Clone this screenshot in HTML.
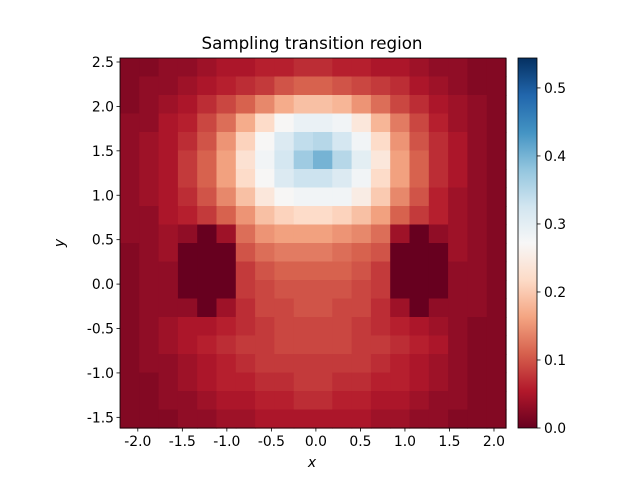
<!DOCTYPE html>
<html><head><meta charset="utf-8"><style>
body{margin:0;background:#fff}
svg{display:block;font-family:"DejaVu Sans","Liberation Sans",sans-serif}
</style></head><body>
<svg id="c" width="640" height="480" viewBox="0 0 640 480">
<rect width="640" height="480" fill="#fff"/>
<text x="312" y="49" font-size="16.7" text-anchor="middle">Sampling transition region</text>
<g id="heat"></g>
<g id="ax"></g>
<defs><linearGradient id="cg" x1="0" y1="1" x2="0" y2="0"></linearGradient></defs>
<rect x="518" y="58" width="19" height="370" fill="url(#cg)" stroke="#000" stroke-width="0.8"/>
<g id="cb"></g>
<text x="312" y="467" font-size="13.9" font-style="italic" text-anchor="middle">x</text>
<text x="64" y="243" font-size="13.9" font-style="italic" text-anchor="middle" transform="rotate(-90 64 243)">y</text>
</svg>
<script>
const grid = [
[.02,.02,.03,.03,.04,.05,.05,.06,.06,.07,.07,.06,.06,.05,.05,.04,.03,.03,.02,.02],
[.02,.03,.03,.04,.05,.06,.07,.08,.10,.11,.11,.10,.09,.08,.07,.05,.04,.03,.02,.02],
[.02,.03,.04,.05,.07,.09,.11,.14,.17,.19,.19,.18,.15,.12,.09,.07,.05,.04,.03,.02],
[.03,.03,.05,.06,.09,.12,.17,.22,.27,.29,.29,.28,.24,.18,.13,.09,.06,.04,.03,.02],
[.03,.04,.05,.07,.10,.15,.21,.27,.31,.34,.35,.32,.28,.22,.15,.10,.07,.05,.03,.02],
[.03,.04,.05,.08,.11,.16,.23,.28,.32,.37,.40,.35,.30,.24,.16,.11,.07,.05,.03,.02],
[.03,.04,.05,.08,.11,.16,.22,.27,.31,.33,.33,.31,.28,.22,.16,.11,.07,.05,.03,.02],
[.03,.04,.05,.07,.10,.14,.19,.24,.27,.28,.28,.28,.25,.20,.14,.10,.06,.04,.03,.02],
[.03,.03,.05,.06,.08,.11,.15,.19,.21,.22,.22,.21,.19,.16,.11,.08,.06,.04,.03,.02],
[.03,.03,.04,.03,0,.04,.12,.15,.16,.16,.16,.15,.14,.12,.04,0,.03,.04,.03,.02],
[.02,.03,.04,0,0,0,.10,.12,.13,.13,.13,.12,.11,.10,0,0,0,.04,.03,.02],
[.02,.03,.03,0,0,0,.08,.10,.11,.11,.11,.11,.10,.08,0,0,0,.03,.03,.02],
[.02,.03,.03,0,0,0,.08,.09,.10,.10,.10,.10,.09,.08,0,0,0,.03,.03,.02],
[.02,.03,.03,.03,0,.04,.07,.09,.09,.10,.10,.09,.09,.07,.04,0,.03,.03,.03,.02],
[.02,.03,.04,.05,.05,.06,.07,.08,.09,.09,.09,.09,.08,.07,.06,.05,.04,.03,.02,.02],
[.02,.03,.04,.05,.06,.07,.08,.08,.09,.09,.09,.09,.08,.08,.07,.06,.05,.03,.02,.02],
[.02,.03,.03,.04,.05,.06,.07,.08,.08,.08,.08,.08,.08,.07,.06,.05,.04,.03,.02,.02],
[.02,.02,.03,.04,.05,.06,.06,.07,.07,.08,.08,.07,.07,.06,.06,.05,.04,.03,.02,.02],
[.02,.02,.03,.03,.04,.05,.05,.06,.06,.07,.07,.06,.06,.05,.05,.04,.03,.03,.02,.02],
[.02,.02,.02,.03,.03,.04,.04,.05,.05,.05,.05,.05,.05,.04,.04,.03,.03,.02,.02,.02]
];
const xTicks = [-2.0,-1.5,-1.0,-0.5,0.0,0.5,1.0,1.5,2.0];
const yTicks = [-1.5,-1.0,-0.5,0.0,0.5,1.0,1.5,2.0,2.5];
const cTicks = [0.0,0.1,0.2,0.3,0.4,0.5];
const xDomain = [-2.2, 2.135];
const yDomain = [-1.62, 2.545];
const vMax = 0.544;
const stops = ["#67001f","#b2182b","#d6604d","#f4a582","#fddbc7","#f7f7f7","#d1e5f0","#92c5de","#4393c3","#2166ac","#053061"];

const L=120,R=506,T=58,B=428;
const NS="http://www.w3.org/2000/svg";
const sx=v=>L+(v-xDomain[0])/(xDomain[1]-xDomain[0])*(R-L);
const sy=v=>B-(v-yDomain[0])/(yDomain[1]-yDomain[0])*(B-T);
const cy=v=>B-v/vMax*(B-T);
function hex(h){return [1,3,5].map(i=>parseInt(h.substr(i,2),16));}
function cmap(v){
  let t=Math.max(0,Math.min(1,v/vMax))*(stops.length-1);
  let i=Math.min(stops.length-2,Math.floor(t)),f=t-i;
  let a=hex(stops[i]),b=hex(stops[i+1]);
  return "rgb("+a.map((x,k)=>Math.round(x+(b[k]-x)*f)).join(",")+")";
}
function mk(tag,attrs,parent){const e=document.createElementNS(NS,tag);for(const k in attrs)e.setAttribute(k,attrs[k]);parent.appendChild(e);return e;}

const heat=document.getElementById('heat');
const nr=grid.length,nc=grid[0].length;
const cw=(R-L)/nc,ch=(B-T)/nr;
grid.forEach((row,r)=>row.forEach((v,c)=>{
  const e=mk('rect',{x:L+c*cw,y:T+r*ch,width:cw+0.6,height:ch+0.6,fill:cmap(v)},heat);
  
  
}));

const ax=document.getElementById('ax');
const fr=mk('rect',{x:L,y:T,width:R-L,height:B-T,fill:'none',stroke:'#000','stroke-width':0.8},ax);


xTicks.forEach(t=>{
  const x=sx(t);
  mk('line',{x1:x,x2:x,y1:B,y2:B+3.5,stroke:'#000','stroke-width':0.8},ax);
  const tx=mk('text',{x:x,y:B+18,'font-size':13.9,'text-anchor':'middle'},ax);
  tx.textContent=t.toFixed(1);
  
  
});
yTicks.forEach(t=>{
  const y=sy(t);
  mk('line',{x1:L-3.5,x2:L,y1:y,y2:y,stroke:'#000','stroke-width':0.8},ax);
  const tx=mk('text',{x:L-6,y:y+5,'font-size':13.9,'text-anchor':'end'},ax);
  tx.textContent=t.toFixed(1);
  
  
});
const g=document.getElementById('cg');
stops.forEach((s,i)=>mk('stop',{offset:(i/(stops.length-1)),'stop-color':s},g));
const cb=document.getElementById('cb');
cTicks.forEach(t=>{
  const y=cy(t);
  mk('line',{x1:537,x2:540.5,y1:y,y2:y,stroke:'#000','stroke-width':0.8},cb);
  const tx=mk('text',{x:544,y:y+5,'font-size':13.9},cb);
  tx.textContent=t.toFixed(1);
  
  
});
</script>
</body></html>
